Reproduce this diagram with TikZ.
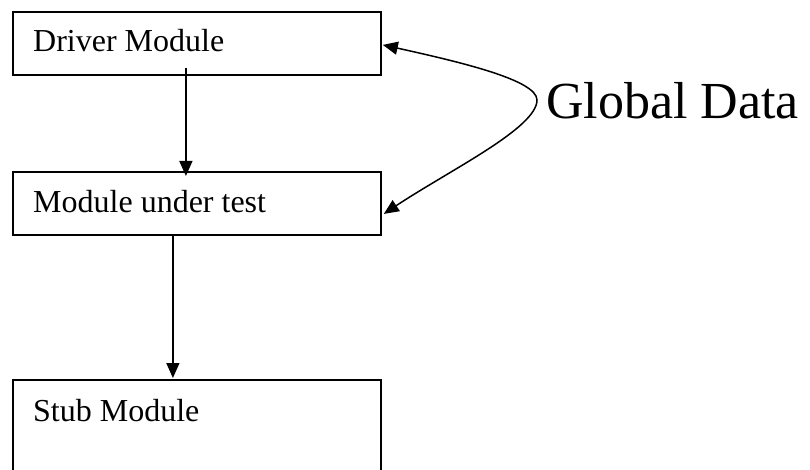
\documentclass[tikz,border=0pt]{standalone}
\usepackage{fontspec}
\setmainfont{Liberation Serif}
\usetikzlibrary{arrows.meta}
\begin{document}
\begin{tikzpicture}[x=1pt,y=-1pt,
  box/.style={draw,line width=1.8pt,minimum width=368pt,minimum height=63pt,inner sep=0pt,anchor=north west},
  lbl/.style={font=\fontsize{32}{38}\selectfont,inner sep=0pt,anchor=base west},
  arr/.style={line width=1.5pt,-{Triangle[length=15pt,width=13pt]}},
  arrb/.style={line width=1.5pt,{Triangle[length=15pt,width=13pt]}-{Triangle[length=15pt,width=13pt]}},
]
\useasboundingbox (0,0) rectangle (810,470);
\node[box] (driver) at (12,11) {};
\node[box] (mut) at (12,171) {};
\node[box,minimum height=93pt] (stub) at (12,379) {};
\node[lbl] (tdriver) at (33,52) {Driver Module};
\node[lbl] (tmut) at (33,212) {Module under test};
\node[lbl] (tstub) at (33,421) {Stub Module};
\node[font=\fontsize{52}{60}\selectfont,inner sep=0pt,anchor=base west] (global) at (546,119) {Global Data};
\draw[arr] ([xshift=-11pt,yshift=8pt]driver.south) -- ([xshift=-11pt,yshift=-5pt]mut.north);
\draw[arr] ([xshift=-24pt]mut.south) -- ([xshift=-24pt,yshift=1pt]stub.north);
\draw[arrb] ([xshift=1pt,yshift=-1.5pt]driver.east) .. controls (460,62) and (537,80) .. (537,100)
  .. controls (537,128) and (450,170) .. ([xshift=2pt,yshift=-10.5pt]mut.east);
\end{tikzpicture}
\end{document}
